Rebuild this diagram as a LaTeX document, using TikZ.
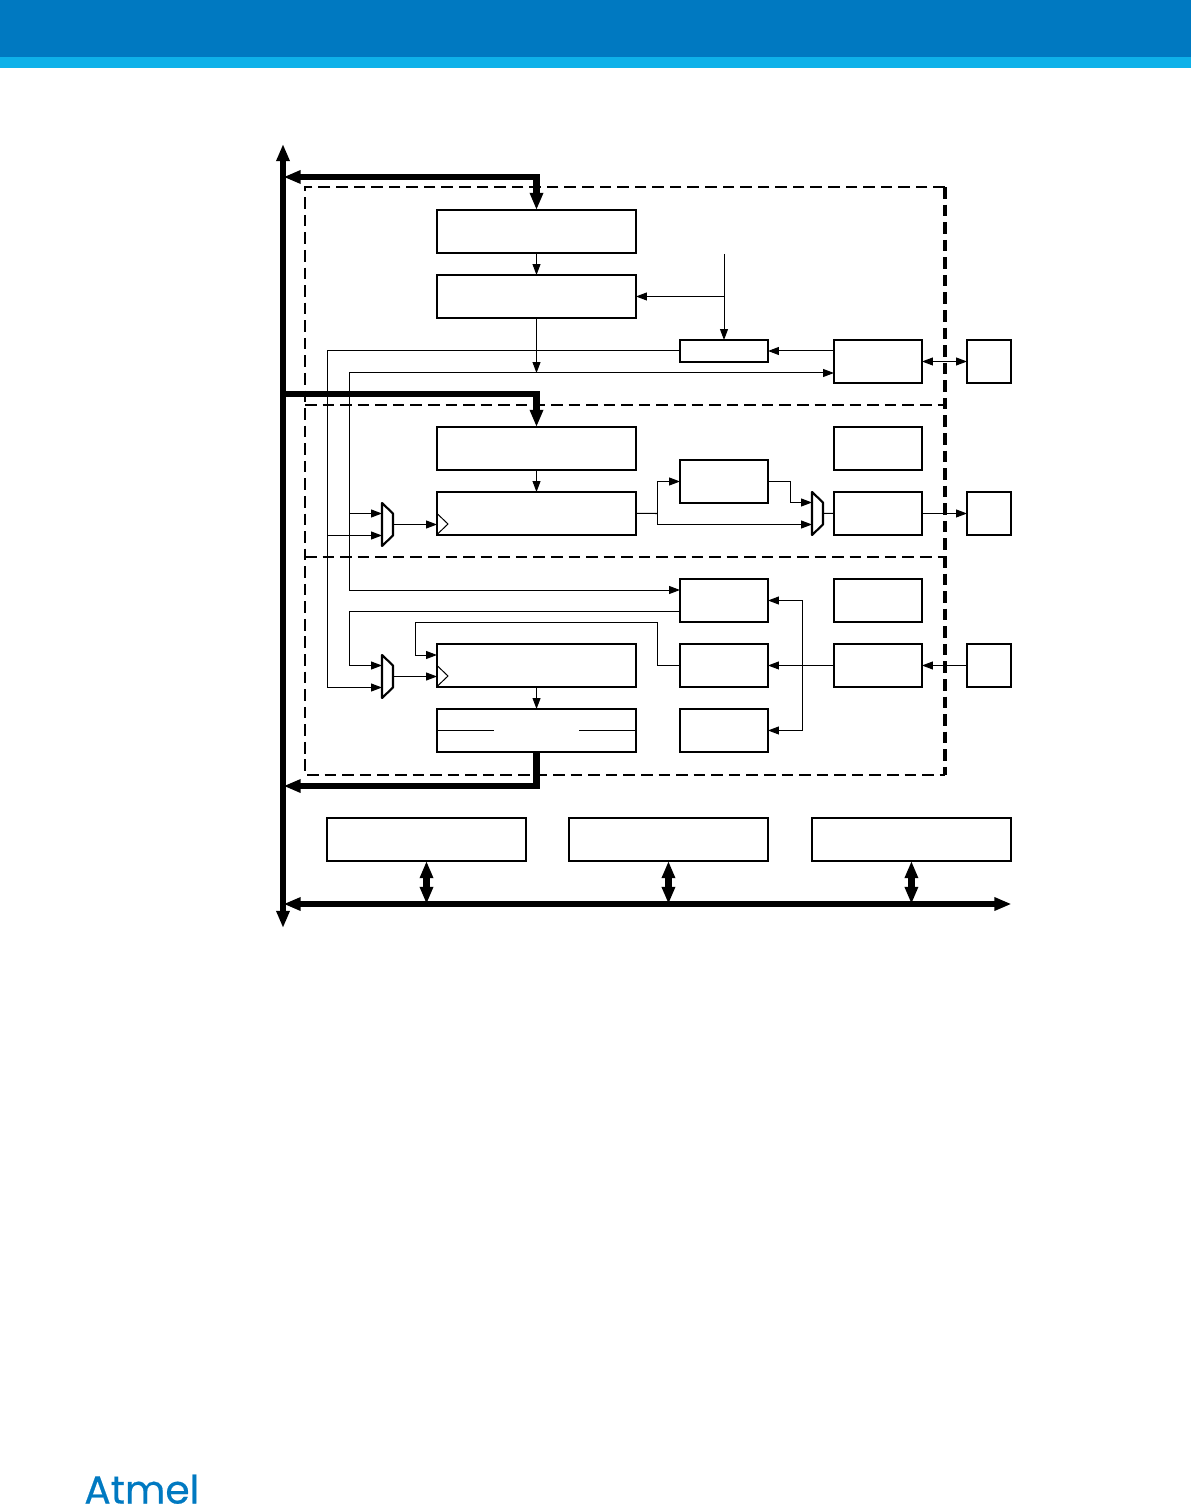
\documentclass[tikz,border=0pt]{standalone}
\usepackage{fontspec}
\usepackage{tikz}
\usetikzlibrary{positioning, arrows.meta}
\newfontfamily\logofont[FakeBold=0.5]{Poppins}
\definecolor{bandblue}{RGB}{0,121,193}
\definecolor{bandcyan}{RGB}{14,177,233}

\begin{document}
\begin{tikzpicture}[x=0.02cm, y=-0.02cm, >={Triangle[length=6.2pt,width=4.5pt]},
  busend/.tip={Triangle[length=9.8pt,width=7.2pt]},
  wire/.style={line width=0.57pt},
  busline/.style={line width=3.6pt, line cap=rect},
  boxline/.style={line width=1.2pt},
  box/.style={draw, boxline, inner sep=0pt, outer sep=0pt, minimum height=0.86cm},
  widebox/.style={box, minimum width=3.98cm},
  midbox/.style={box, minimum width=1.76cm},
  portbox/.style={box, minimum width=0.88cm},
  zoneline/.style={line width=1.1pt, dash pattern=on 6.6pt off 3.4pt},
  zone/.style={inner sep=0pt, outer sep=0pt, minimum width=12.8cm, minimum height=11.76cm},
  zonewall/.style={line width=1.8pt, dash pattern=on 6.6pt off 3.4pt},
  mux/.pic={
    \draw[boxline, line join=round] (0,0) -- (11,10.5) -- (11,32.5) -- (0,43) -- cycle;
    \coordinate (-up) at (0,10.5);
    \coordinate (-dn) at (0,32.5);
    \coordinate (-out) at (11,21.5);
  },
  clock/.pic={\draw[wire] (0,0) -- (11,10.5) -- (0,21);}]

\useasboundingbox (0,0) rectangle (1191,1506);
\fill[bandblue] (0,0) rectangle (1191,57);
\fill[bandcyan] (0,57) rectangle (1191,68);
\node[anchor=base west, inner sep=0pt, text=bandblue, font=\logofont\fontsize{22.3}{24}\selectfont] (logo) at (84,1503.5) {Atmel};

\node[zone] (frame) at (625,481) {};
\coordinate (midA) at (305,405);
\coordinate (midB) at (305,557);
\draw[zoneline] (frame.north east) -- (frame.north west) -- (frame.south west) -- (frame.south east);
\draw[zoneline] (midA) -- (midA -| frame.east);
\draw[zoneline] (midB) -- (midB -| frame.east);
\draw[zonewall] (frame.north east) -- (frame.south east);

\node[widebox] (baud) at (536.5,231.5) {};
\node[widebox] (divider) [below=0.44cm of baud] {};
\node[midbox, minimum height=0.44cm] (sync) at (724,351) {};
\node[midbox] (xckctl) at (878,361.5) {};
\node[portbox] (xck) [right=0.9cm of xckctl] {};

\node[widebox] (txbuf) at (536.5,448.5) {};
\node[widebox] (txshift) [below=0.44cm of txbuf] {};
\node[midbox] (txpar) at (724,481.5) {};
\node[midbox] (txhold) at (878,448.5) {};
\node[midbox] (txctl) [below=0.44cm of txhold] {};
\node[portbox] (txd) [right=0.9cm of txctl] {};

\node[midbox] (crec) at (724,600.5) {};
\node[midbox] (rxhold) [right=1.32cm of crec] {};
\node[midbox] (drec) [below=0.44cm of crec] {};
\node[midbox] (pchk) [below=0.44cm of drec] {};
\node[midbox] (rxctl) [below=0.44cm of rxhold] {};
\node[portbox] (rxd) [right=0.9cm of rxctl] {};
\node[widebox] (rxshift) [left=0.88cm of drec] {};
\node[widebox] (rxbuf) [below=0.44cm of rxshift] {};

\node[widebox] (statA) at (426.5,839.5) {};
\node[widebox] (statB) [right=0.86cm of statA] {};
\node[widebox] (statC) [right=0.88cm of statB] {};

\draw[line width=0.9pt] (rxbuf.west) -- +(57,0);
\draw[line width=0.9pt] (rxbuf.east) -- +(-57,0);

\pic (muxT) at (812,492) {mux};
\pic (muxA) at (382,503) {mux};
\pic (muxC) at (382,655) {mux};
\pic at (437,513.5) {clock};
\pic at (437,665.5) {clock};

\coordinate (clkin) at (724,254);
\coordinate (leftA) at (327,351);
\coordinate (leftB) at (349,373);
\coordinate (xckin) at (834,373);
\coordinate (crecin) at (680,590);
\coordinate (crecout) at (680,611.5);
\coordinate (bendC) at (349,611.5);
\coordinate (bendD) at (657.5,622.5);
\coordinate (bendE) at (415.5,622.5);
\coordinate (rxin) at (437,655);
\coordinate (txsplit) at (657.5,513.5);
\coordinate (parbend) at (790,481.5);
\coordinate (rxsplit) at (802,665.5);

\path[wire]
(baud) edge[->] (divider)
(clkin) edge[->] (sync)
(clkin |- divider.east) edge[->] (divider.east)
(divider) edge[->] (divider |- leftB)
(xckctl.west |- sync.east) edge[->] (sync.east)
(xckctl) edge[<->] (xck)
(txbuf) edge[->] (txshift)
(txctl) edge[->] (txd)
(rxd) edge[->] (rxctl)
(rxctl) edge[->] (drec)
(rxshift) edge[->] (rxbuf)
(muxA-out) edge[->] (muxA-out -| txshift.west)
(muxC-out) edge[->] (muxC-out -| rxshift.west)
(muxT-out) edge (txctl.west)
(txshift.east) edge (txsplit)
;

\draw[wire,->] (sync.west) -- (leftA) |- (muxC-dn);
\draw[wire,->] (leftA |- muxA-dn) -- (muxA-dn);
\draw[wire,->] (leftB) -- (xckin);
\draw[wire,->] (leftB) |- (crecin);
\draw[wire,->] (leftB |- muxA-up) -- (muxA-up);
\draw[wire,->] (crecout) -- (bendC) |- (muxC-up);
\draw[wire,->] (drec.west) -| (bendD) -- (bendE) |- (rxin);
\draw[wire,->] (txsplit) |- (txpar.west);
\draw[wire,->] (txsplit) |- (muxT-dn);
\draw[wire,->] (txpar.east) -- (parbend) |- (muxT-up);
\draw[wire,->] (rxsplit) |- (crec.east);
\draw[wire,->] (rxsplit) |- (pchk.east);

\coordinate (busTop) at (283,144);
\coordinate (busBot) at (283,928);
\coordinate (tapA) at (536.5,177);
\coordinate (tapAend) at (283.5,177);
\coordinate (tapB) at (283,394);
\coordinate (tapCend) at (283.5,786);
\coordinate (lowL) at (283.5,904);
\coordinate (lowR) at (1011.5,904);

\draw[busline, {busend}-{busend}] (busTop) -- (busBot);
\draw[busline, -{busend}] (tapA) -- (tapAend);
\draw[busline, -{busend}] (tapA) -- (baud);
\draw[busline, -{busend}] (tapB) -| (txbuf.north);
\draw[busline, line cap=butt, -{busend}] (rxbuf.south) |- (tapCend);
\draw[busline, {busend}-{busend}] (lowL) -- (lowR);
\draw[busline, {busend}-{busend}] (statA.south) -- (statA.south |- lowL);
\draw[busline, {busend}-{busend}] (statB.south) -- (statB.south |- lowL);
\draw[busline, {busend}-{busend}] (statC.south) -- (statC.south |- lowL);

\end{tikzpicture}
\end{document}
